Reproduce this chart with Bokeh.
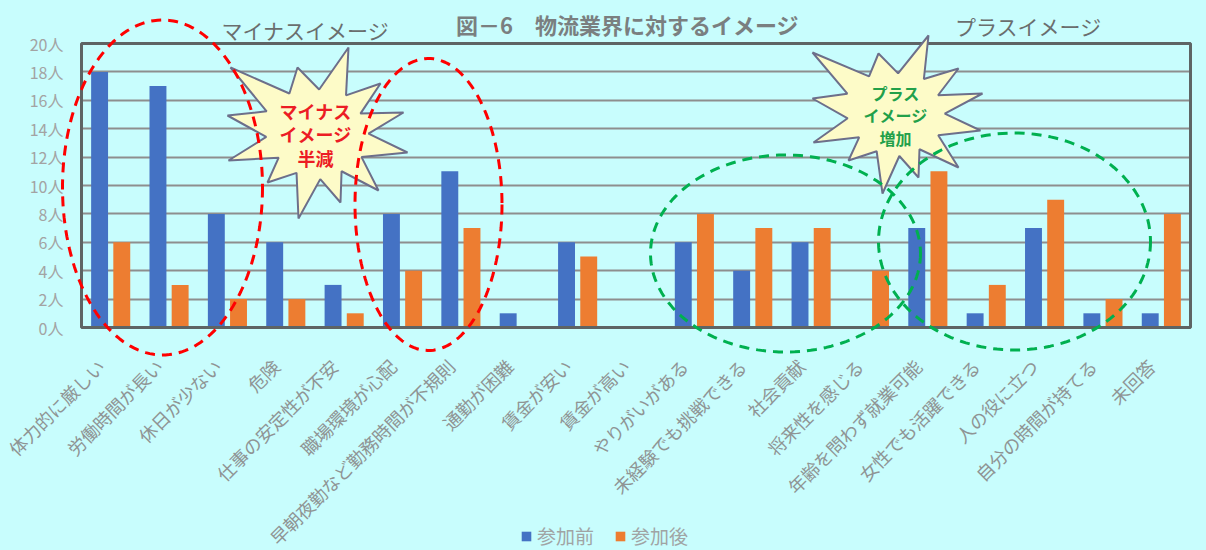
import numpy as np
from bokeh.plotting import figure
from bokeh.models import (Range1d, FixedTicker, CustomJSTickFormatter, BoxAnnotation,
                          Label, PolyAnnotation, Legend, LegendItem, ColumnDataSource)
from bokeh.transform import dodge
from bokeh.embed import file_html
from bokeh.resources import INLINE

# ---------------- data ----------------
categories = ["体力的に厳しい", "労働時間が長い", "休日が少ない", "危険", "仕事の安定性が不安",
              "職場環境が心配", "早朝夜勤など勤務時間が不規則", "通勤が困難", "賃金が安い", "賃金が高い",
              "やりがいがある", "未経験でも挑戦できる", "社会貢献", "将来性を感じる", "年齢を問わず就業可能",
              "女性でも活躍できる", "人の役に立つ", "自分の時間が持てる", "未回答"]
before = [18, 17, 8, 6, 3, 8, 11, 1, 6, 0, 6, 4, 6, 0, 7, 1, 7, 1, 1]
after = [6, 3, 2, 2, 1, 4, 7, 0, 5, 0, 8, 7, 7, 4, 11, 3, 9, 2, 8]
series = ["参加前", "参加後"]
y_ticks = [0, 2, 4, 6, 8, 10, 12, 14, 16, 18, 20]
unit = "人"
title_text = "図－6　物流業界に対するイメージ"
minus_text = "マイナスイメージ"
plus_text = "プラスイメージ"
minus_note = ["マイナス", "イメージ", "半減"]
plus_note = ["プラス", "イメージ", "増加"]

# ---------------- layout / styling ----------------
FONT = "Noto Sans CJK JP"
BG = "#c8fdfd"
BLUE = "#4472c4"
ORANGE = "#ed7d31"

W, H = 1206, 550
PL, PR, PT, PB = 81, 1190, 43, 327       # pixel box of the plotting area
NC = len(categories)
YMAX = 20
UX = (PR - PL) / NC
UY = (PB - PT) / YMAX
LABEL_SHIFT = 0.17                        # tilted labels sit a little left of the bar pair

p = figure(width=W, height=H,
           x_range=Range1d(-PL / UX, NC + (W - PR) / UX),
           y_range=Range1d(-(H - PB) / UY, YMAX + PT / UY),
           output_backend="svg", toolbar_location=None,
           min_border_left=0, min_border_right=0, min_border_top=0, min_border_bottom=0)
p.background_fill_color = BG
p.border_fill_color = BG
p.outline_line_color = None

positions = [i + 0.5 for i in range(NC)]
src = ColumnDataSource(dict(pos=positions, cat=categories, before=before, after=after))
r1 = p.vbar(x=dodge("pos", -0.19), top="before", width=0.29,
            source=src, fill_color=BLUE, line_color=None)
r2 = p.vbar(x=dodge("pos", 0.19), top="after", width=0.29,
            source=src, fill_color=ORANGE, line_color=None)

# axes at data 0
p.xaxis.fixed_location = 0
p.yaxis.fixed_location = 0
p.xaxis.ticker = FixedTicker(ticks=[x - LABEL_SHIFT for x in positions])
p.xaxis.formatter = CustomJSTickFormatter(args=dict(labels=categories),
                                          code="return labels[Math.floor(tick)]")
p.yaxis.ticker = FixedTicker(ticks=y_ticks)
p.yaxis.formatter = CustomJSTickFormatter(args=dict(u=unit), code="return tick + u")
for ax in (p.xaxis[0], p.yaxis[0]):
    ax.axis_line_color = None
    ax.major_tick_line_color = None
    ax.minor_tick_line_color = None
    ax.major_label_text_font = FONT
p.yaxis.major_label_text_font_size = "16px"
p.yaxis.major_label_text_color = "#a3a3a3"
p.yaxis.major_label_standoff = 12
p.xaxis.major_label_text_font_size = "18px"
p.xaxis.major_label_text_color = "#8f9494"
p.xaxis.major_label_orientation = np.pi / 4
p.xaxis.major_label_standoff = 29

p.xgrid.grid_line_color = None
p.ygrid.ticker = FixedTicker(ticks=y_ticks)
p.ygrid.grid_line_color = "#8e8e8e"
p.ygrid.grid_line_width = 2
p.ygrid.cross_bounds = (0, NC)

p.add_layout(BoxAnnotation(left=0, right=NC, bottom=0, top=YMAX, fill_alpha=0,
                           line_color="#5e6464", line_alpha=1, line_width=3))


# page-pixel -> data helpers (for decorations only)
def X(px):
    return (px - PL) / UX


def Y(py):
    return (PB - py) / UY


def ellipse(cx, cy, w, h, color):
    t = np.linspace(0, 2 * np.pi, 160)
    xs = [X(cx + w / 2 * np.cos(a)) for a in t]
    ys = [Y(cy + h / 2 * np.sin(a)) for a in t]
    return PolyAnnotation(xs=xs, ys=ys, fill_alpha=0, line_color=color, line_alpha=1,
                          line_width=3, line_dash="10 7")


def star(cx, cy, outer, k=0.56):
    pts = sorted(outer, key=lambda q: np.arctan2(q[1] - cy, q[0] - cx))
    xs, ys = [], []
    n = len(pts)
    for i in range(n):
        a = pts[i]
        b = pts[(i + 1) % n]
        xs.append(X(a[0])); ys.append(Y(a[1]))
        a1 = np.arctan2(a[1] - cy, a[0] - cx)
        a2 = np.arctan2(b[1] - cy, b[0] - cx)
        if a2 < a1:
            a2 += 2 * np.pi
        am = (a1 + a2) / 2
        r = k * (np.hypot(a[0] - cx, a[1] - cy) + np.hypot(b[0] - cx, b[1] - cy)) / 2
        xs.append(X(cx + r * np.cos(am))); ys.append(Y(cy + r * np.sin(am)))
    return PolyAnnotation(xs=xs, ys=ys, fill_color="#fdfbc8", fill_alpha=1,
                          line_color="#6d6f8a", line_alpha=1, line_width=2)


p.add_layout(star(318, 135, [(230, 67), (297, 67), (348, 47), (380, 83), (403, 112), (407, 152),
                             (378, 190), (340, 202), (298, 218), (267, 182), (228, 160), (227, 115)]))
p.add_layout(star(895, 115, [(812, 52), (878, 53), (928, 35), (958, 68), (982, 93), (980, 130),
                             (958, 167), (918, 177), (882, 193), (848, 160), (813, 142), (812, 98)]))

p.add_layout(ellipse(162, 187, 200, 335, "#ff0000"))
p.add_layout(ellipse(428, 204, 147, 292, "#ff0000"))
p.add_layout(ellipse(785, 253, 270, 197, "#00b050"))
p.add_layout(ellipse(1014, 241, 272, 217, "#00b050"))


def label(px, py, text, size, color, bold=False):
    p.add_layout(Label(x=X(px), y=Y(py), text=text, text_font=FONT,
                       text_font_size=size, text_color=color,
                       text_font_style="bold" if bold else "normal",
                       text_align="center", text_baseline="middle"))


label(627, 23, title_text, "22px", "#7a7f80", bold=True)
label(305, 29, minus_text, "21px", "#6a6e6e")
label(1028, 25, plus_text, "21px", "#6a6e6e")
for t, py in zip(minus_note, [110, 133, 157]):
    label(315, py, t, "18px", "#ec1c24", bold=True)
for t, py in zip(plus_note, [92, 114, 137]):
    label(895, py, t, "16px", "#22a04a", bold=True)

legend = Legend(items=[LegendItem(label=series[0], renderers=[r1]),
                       LegendItem(label=series[1], renderers=[r2])],
                orientation="horizontal", location=(520, 1),
                padding=0, margin=0, spacing=20, label_standoff=5,
                glyph_width=12, glyph_height=12, label_height=18,
                label_text_font=FONT, label_text_font_size="19px",
                label_text_color="#a0a4a4",
                background_fill_alpha=0, border_line_color=None)
p.add_layout(legend)

html = file_html(p, INLINE).replace("<body>", '<body style="background-color:#c8fdfd">')
open("out.html", "w").write(html)
